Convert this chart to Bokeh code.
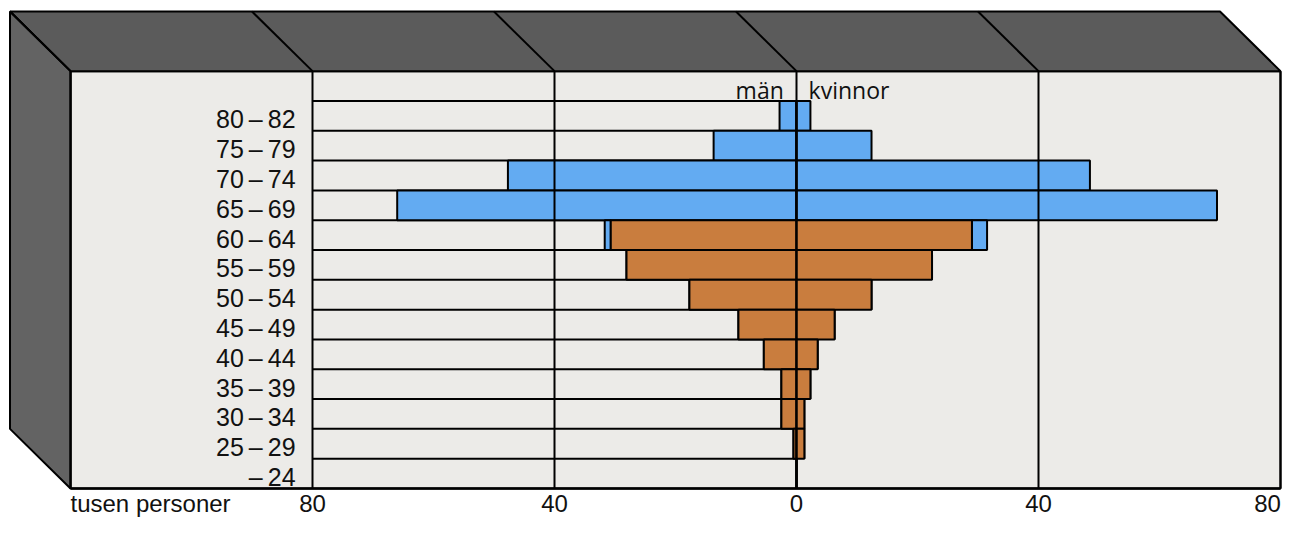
from bokeh.plotting import figure
from bokeh.models import Range1d, ColumnDataSource
from bokeh.core.properties import value
from bokeh.embed import file_html
from bokeh.resources import INLINE

# ---- data (thousands of persons) ----
age_groups = ["80\u2009\u2013\u200982", "75\u2009\u2013\u200979", "70\u2009\u2013\u200974", "65\u2009\u2013\u200969",
              "60\u2009\u2013\u200964", "55\u2009\u2013\u200959", "50\u2009\u2013\u200954", "45\u2009\u2013\u200949",
              "40\u2009\u2013\u200944", "35\u2009\u2013\u200939", "30\u2009\u2013\u200934", "25\u2009\u2013\u200929",
              "\u2013\u200924"]
men_orange = [0, 0, 0, 0, 30.7, 28.1, 17.7, 9.6, 5.4, 2.5, 2.5, 0.5, 0]
men_blue = [2.8, 13.7, 47.7, 66.0, 1.0, 0, 0, 0, 0, 0, 0, 0, 0]
women_orange = [0, 0, 0, 0, 29.0, 22.4, 12.4, 6.3, 3.5, 2.3, 1.3, 1.3, 0]
women_blue = [2.3, 12.4, 48.5, 69.5, 2.5, 0, 0, 0, 0, 0, 0, 0, 0]
tick_values = [-80, -40, 0, 40, 80]
tick_labels = ["80", "40", "0", "40", "80"]
unit_label = "tusen personer"
men_label = "m\u00e4n"
women_label = "kvinnor"

BLUE = "#63abf2"
ORANGE = "#c97d3e"
FRONT = "#ecebe8"
TOP = "#5b5b5b"
SIDE = "#636363"
FONT = value("Liberation Sans")
FONT2 = value("Open Sans")
INK = "#111111"

n = len(age_groups)
rows = [n - 1 - i for i in range(n)]  # bottom group -> 0

p = figure(width=1282, height=517, x_range=Range1d(-131.57, 80.33), y_range=Range1d(-0.973, 16.37),
           output_backend="svg", toolbar_location=None, min_border=0,
           x_axis_type=None, y_axis_type=None)
p.grid.visible = False
p.outline_line_color = None
p.background_fill_color = "white"
p.border_fill_color = "white"

# ---- 3D box ----
dx, dy = -10, 2
x_left, x_right = -120, 80
y_bot, y_top = 0, n + 1
p.quad(left=[x_left], right=[x_right], bottom=[y_bot], top=[y_top],
       fill_color=FRONT, line_color="black", line_width=2)
p.patch([x_left, x_right, x_right + dx, x_left + dx], [y_top, y_top, y_top + dy, y_top + dy],
        fill_color=TOP, line_color="black", line_width=2)
p.patch([x_left, x_left, x_left + dx, x_left + dx], [y_bot, y_top, y_top + dy, y_bot + dy],
        fill_color=SIDE, line_color="black", line_width=2)
slx = [x_left] + tick_values[:-1]
p.segment(x0=slx, y0=[y_top] * len(slx), x1=[v + dx for v in slx], y1=[y_top + dy] * len(slx),
          line_color="black", line_width=2)

# row lines on the men side
p.segment(x0=[-80] * n, y0=list(range(1, n + 1)), x1=[0] * n, y1=list(range(1, n + 1)),
          line_color="black", line_width=2)

# ---- bars ----
src = ColumnDataSource(dict(
    row=rows,
    mo_l=[-v for v in men_orange],
    mb_l=[-(a + b) for a, b in zip(men_orange, men_blue)],
    wo_r=women_orange,
    wb_r=[a + b for a, b in zip(women_orange, women_blue)],
    top=[r + 1 for r in rows],
))
p.quad(left="mb_l", right="mo_l", bottom="row", top="top", source=src,
       fill_color=BLUE, line_color="black", line_width=2)
p.quad(left="mo_l", right=0, bottom="row", top="top", source=src,
       fill_color=ORANGE, line_color="black", line_width=2)
p.quad(left="wo_r", right="wb_r", bottom="row", top="top", source=src,
       fill_color=BLUE, line_color="black", line_width=2)
p.quad(left=0, right="wo_r", bottom="row", top="top", source=src,
       fill_color=ORANGE, line_color="black", line_width=2)

# vertical grid lines on top of the bars
gx = tick_values[:-1]
p.segment(x0=gx, y0=[y_bot] * len(gx), x1=gx, y1=[y_top] * len(gx), line_color="black", line_width=2)
p.segment(x0=[x_left, x_right], y0=[y_bot, y_bot], x1=[x_left, x_right], y1=[y_top, y_top],
          line_color="black", line_width=2)
p.segment(x0=[x_left], y0=[y_bot], x1=[x_right], y1=[y_bot], line_color="black", line_width=2.5)

# ---- labels ----
p.text(x=[-82.8] * n, y=[r + 0.383 for r in rows], text=age_groups, text_align="right",
       text_baseline="middle", text_font=FONT, text_font_size="25px", text_color=INK)
tick_src = ColumnDataSource(dict(x=tick_values, y=[-0.52] * len(tick_values), text=tick_labels,
                                 off=[0] * (len(tick_values) - 1) + [-13]))
p.text(x="x", y="y", text="text", x_offset="off", source=tick_src, text_align="center",
       text_baseline="middle", text_font=FONT, text_font_size="24px", text_color=INK)
p.text(x=[x_left], y=[-0.52], text=[unit_label], text_align="left",
       text_baseline="middle", text_font=FONT, text_font_size="24px", text_color=INK)
p.text(x=[-2.1], y=[13.36], text=[men_label], text_align="right", text_baseline="middle",
       text_font=FONT2, text_font_size="23px", text_color=INK)
p.text(x=[2.0], y=[13.36], text=[women_label], text_align="left", text_baseline="middle",
       text_font=FONT2, text_font_size="23px", text_color=INK)

open("out.html", "w").write(file_html(p, INLINE))
